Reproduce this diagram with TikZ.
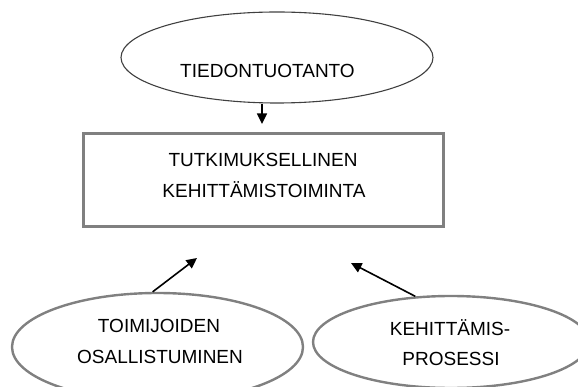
\documentclass[tikz,border=0pt]{standalone}
\usepackage{fontspec}
\setmainfont{Liberation Sans}
\usetikzlibrary{shapes.geometric,arrows.meta}
\tikzset{
  label text/.style={font=\fontsize{19}{22}\selectfont, text=black, anchor=base, inner sep=0pt},
  oval/.style={draw=#1, ellipse, inner sep=0pt},
  frame/.style={draw=black!50, line width=3pt, minimum width=360pt, minimum height=93pt, inner sep=0pt},
  link/.style={draw=black, line width=1.6pt, -{Triangle[length=10.5pt,width=10pt]}},
}
\begin{document}
\begin{tikzpicture}[x=1pt,y=-1pt]
  \useasboundingbox (0,0) rectangle (578,387);
  \clip (0,0) rectangle (578,387);

  % knowledge production, top
  \node[oval=black!75, line width=1.1pt, minimum width=312pt, minimum height=91pt] (top) at (277,57.5) {};
  \node[label text] (t1) at (267.5,78) {TIEDONTUOTANTO};

  % central activity box
  \node[frame] (box) at (263,180.5) {};
  \node[label text] (b1) at (263,167) {TUTKIMUKSELLINEN};
  \node[label text] (b2) at (264,198) {KEHITTÄMISTOIMINTA};

  % participation, bottom left
  \node[oval=black!50, line width=2.4pt, minimum width=291pt, minimum height=108pt] (left) at (157.5,347) {};
  \node[label text] (p1) at (159,332) {TOIMIJOIDEN};
  \node[label text] (p2) at (160,363) {OSALLISTUMINEN};

  % development process, bottom right
  \node[oval=black!50, line width=2.4pt, minimum width=276pt, minimum height=92pt] (right) at (451,342) {};
  \node[label text] (d1) at (450,335) {KEHITTÄMIS-};
  \node[label text] (d2) at (451,365) {PROSESSI};

  % arrow ends
  \coordinate (tipTop) at (262,124);
  \coordinate (tipLeft) at (197,258);
  \coordinate (tipRight) at (351,263);

  \draw[link] (top.south -| tipTop) -- (tipTop);
  \draw[link] (left.95) -- (tipLeft);
  \draw[link] (right.128) -- (tipRight);
\end{tikzpicture}
\end{document}
